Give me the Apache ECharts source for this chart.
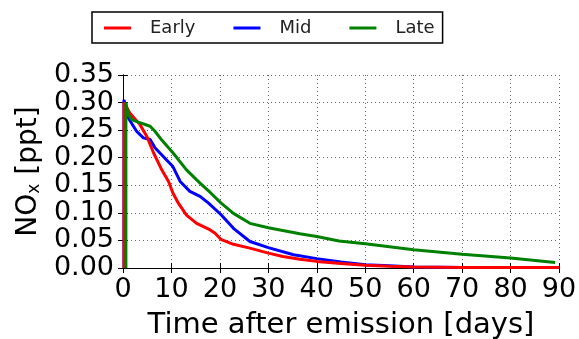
<!DOCTYPE html>
<html>
<head>
<meta charset="utf-8">
<script src="https://cdn.jsdelivr.net/npm/echarts@6/dist/echarts.min.js"></script>
<style>
 html,body{margin:0;padding:0;background:#fff;}
 #chart{width:579px;height:339px;}
</style>
</head>
<body>
<div id="chart"></div>
<script>
// series names
var seriesNames = ['Early', 'Mid', 'Late'];

// time after emission [days] and NOx [ppt] for each series
var earlyDays = [0.2, 0.2, 1.4, 3.5, 4.9, 6.3, 8, 9.4, 10.3, 11.4, 13.1, 15.2, 18, 19, 20.2, 22.8, 26.2, 30, 33, 36.5, 40, 45, 50, 55, 60, 70, 80, 90];
var earlyNox  = [0, 0.300, 0.281, 0.260, 0.239, 0.209, 0.178, 0.157, 0.136, 0.118, 0.096, 0.081, 0.069, 0.063, 0.052, 0.043, 0.036, 0.027, 0.021, 0.016, 0.012, 0.008, 0.005, 0.003, 0.002, 0.001, 0.001, 0.001];

var midDays = [0.2, 0.2, 1.1, 2.8, 4.2, 5.6, 6.6, 9, 10.3, 11.8, 13.8, 15.9, 17.6, 20.2, 22.8, 26.2, 30, 35.2, 40, 45, 50, 55, 60, 70, 80, 90];
var midNox  = [0, 0.305, 0.272, 0.248, 0.236, 0.233, 0.218, 0.196, 0.184, 0.157, 0.139, 0.130, 0.118, 0.097, 0.072, 0.048, 0.037, 0.024, 0.017, 0.011, 0.006, 0.004, 0.002, 0.001, 0.001, 0.001];

var lateDays = [0.6, 0.6, 1.0, 1.8, 3, 5.6, 6.6, 8, 10.3, 13.1, 15.9, 18, 20.2, 22.8, 26.2, 30, 36.5, 40, 44.6, 50, 60, 70, 80, 89.2];
var lateNox  = [0, 0.300, 0.280, 0.269, 0.265, 0.257, 0.248, 0.232, 0.209, 0.178, 0.154, 0.137, 0.118, 0.099, 0.081, 0.073, 0.062, 0.057, 0.049, 0.044, 0.033, 0.025, 0.018, 0.010];

function pairs(xs, ys) {
  return xs.map(function (x, i) { return [x, ys[i]]; });
}

var dom = document.getElementById('chart');
var myChart = echarts.init(dom, null, {renderer: 'canvas'});

var font = 'DejaVu Sans';
var tickCommon = {show: true, inside: true, length: 5, lineStyle: {color: '#000', width: 1}};
var gridLine = {show: true, lineStyle: {color: '#666', type: [1, 3], width: 1}};

var option = {
  animation: false,
  backgroundColor: '#fff',
  textStyle: {fontFamily: font},
  legend: {
    data: seriesNames,
    left: 92,
    top: 12,
    padding: [7, 8, 6, 12],
    borderColor: '#000',
    borderWidth: 1.5,
    itemGap: 38,
    itemWidth: 27,
    itemHeight: 3,
    icon: 'rect',
    textStyle: {fontFamily: font, fontSize: 18, color: '#222', padding: [0, 0, 0, 14]}
  },
  grid: {left: 123, right: 20, top: 75, bottom: 71, containLabel: false, outerBoundsMode: 'none'},
  xAxis: [
    {
      type: 'value', min: 0, max: 90, interval: 10,
      name: 'Time after emission [days]',
      nameLocation: 'middle', nameGap: 43,
      nameTextStyle: {fontFamily: font, fontSize: 29, color: '#000'},
      axisLine: {show: true, lineStyle: {color: '#000', width: 1}},
      axisTick: tickCommon,
      axisLabel: {fontFamily: font, fontSize: 27, color: '#000', margin: 8, hideOverlap: false},
      splitLine: gridLine
    },
    {
      type: 'value', min: 0, max: 90, interval: 10, position: 'top',
      axisLine: {show: true, lineStyle: {color: '#000', width: 1}},
      axisTick: tickCommon,
      axisLabel: {show: false},
      splitLine: {show: false}
    }
  ],
  yAxis: [
    {
      type: 'value', min: 0, max: 0.35, interval: 0.05,
      name: 'NO{sub|x} [ppt]',
      nameLocation: 'middle', nameGap: 80, nameRotate: 90,
      nameTextStyle: {
        fontFamily: font, fontSize: 28, color: '#000',
        rich: {sub: {fontFamily: font, fontSize: 17, color: '#000', verticalAlign: 'bottom', padding: [12, 0, 0, 0]}}
      },
      axisLine: {show: true, lineStyle: {color: '#000', width: 1}},
      axisTick: tickCommon,
      axisLabel: {fontFamily: font, fontSize: 27, color: '#000', margin: 9, hideOverlap: false,
        formatter: function (v) { return v.toFixed(2); }},
      splitLine: gridLine
    },
    {
      type: 'value', min: 0, max: 0.35, interval: 0.05, position: 'right',
      axisLine: {show: true, lineStyle: {color: '#000', width: 1}},
      axisTick: tickCommon,
      axisLabel: {show: false},
      splitLine: {show: false}
    }
  ],
  series: [
    {
      name: 'Mid', type: 'line', showSymbol: false, symbol: 'none',
      color: '#0000ff', lineStyle: {width: 3, color: '#0000ff'},
      data: pairs(midDays, midNox)
    },
    {
      name: 'Early', type: 'line', showSymbol: false, symbol: 'none',
      color: '#ff0000', lineStyle: {width: 3, color: '#ff0000'},
      data: pairs(earlyDays, earlyNox)
    },
    {
      name: 'Late', type: 'line', showSymbol: false, symbol: 'none',
      color: '#008000', lineStyle: {width: 3, color: '#008000'},
      data: pairs(lateDays, lateNox)
    }
  ]
};

myChart.setOption(option);
</script>
</body>
</html>
